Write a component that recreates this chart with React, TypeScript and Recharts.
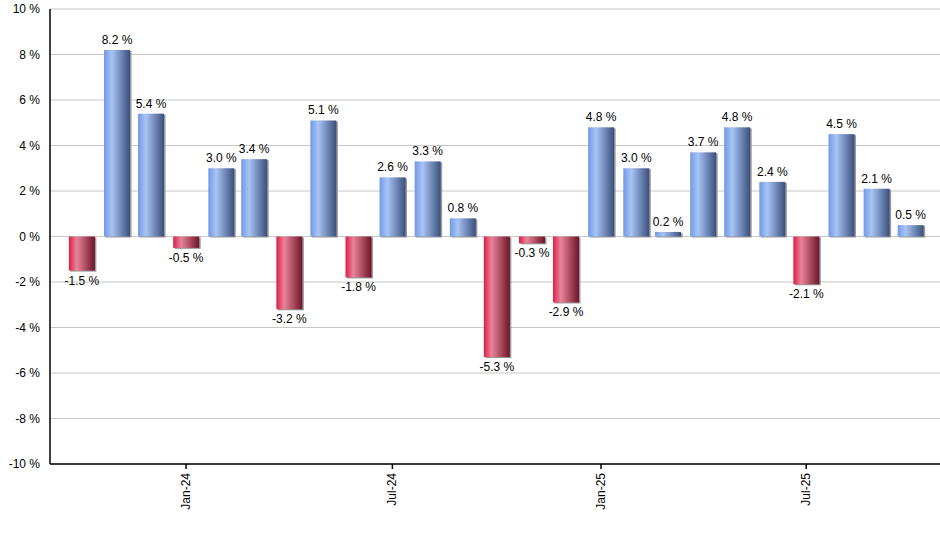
import { BarChart, Bar, XAxis, YAxis, CartesianGrid, LabelList, Cell } from "recharts";

const months = [
  "2023-10", "2023-11", "2023-12", "2024-01", "2024-02", "2024-03", "2024-04",
  "2024-05", "2024-06", "2024-07", "2024-08", "2024-09", "2024-10", "2024-11",
  "2024-12", "2025-01", "2025-02", "2025-03", "2025-04", "2025-05", "2025-06",
  "2025-07", "2025-08", "2025-09", "2025-10",
];

const returns = [
  -1.5, 8.2, 5.4, -0.5, 3.0, 3.4, -3.2, 5.1, -1.8, 2.6, 3.3, 0.8, -5.3, -0.3,
  -2.9, 4.8, 3.0, 0.2, 3.7, 4.8, 2.4, -2.1, 4.5, 2.1, 0.5,
];

const tickMonths = ["2024-01", "2024-07", "2025-01", "2025-07"];
const tickLabels = ["Jan-24", "Jul-24", "Jan-25", "Jul-25"];
const yTicks = [-10, -8, -6, -4, -2, 0, 2, 4, 6, 8, 10];

const toTime = (m: string) => {
  const [y, mo] = m.split("-").map(Number);
  return Date.UTC(y, mo - 1, 1);
};

const data = months.map((m, i) => ({ t: toTime(m), v: returns[i] }));
const xTicks = tickMonths.map(toTime);
const domain = [Date.UTC(2023, 8, 3), Date.UTC(2025, 9, 27)];

const font = "'Liberation Sans', Arial, sans-serif";

const XTick = (props: any) => {
  const { x, y, payload } = props;
  const idx = xTicks.indexOf(payload.value);
  return (
    <text
      x={x}
      y={y + 2}
      transform={`rotate(-90 ${x} ${y + 2})`}
      textAnchor="end"
      dominantBaseline="central"
      fontSize={12}
      fontFamily={font}
      fill="#000"
    >
      {tickLabels[idx]}
    </text>
  );
};

const ValueLabel = (props: any) => {
  const { x, y, width, height, value } = props;
  const neg = value < 0;
  const cx = x + width / 2;
  const bottom = y + height;
  const ty = neg ? Math.max(y, bottom) + 14 : Math.min(y, bottom) - 6;
  return (
    <text x={cx} y={ty} textAnchor="middle" fontSize={12} fontFamily={font} fill="#000">
      {value.toFixed(1)} %
    </text>
  );
};

const ShadowBar = (props: any) => {
  const { x, y, width, height, fill } = props;
  const top = Math.min(y, y + height);
  const h = Math.abs(height);
  return (
    <g>
      <rect x={x + 1.5} y={top + 1} width={width} height={h} fill="#9a9a9a" />
      <rect x={x} y={top} width={width} height={h} fill={fill} />
    </g>
  );
};

export default function App() {
  return (
    <div style={{ position: "absolute", left: 0, top: 0, background: "#fff" }}>
      <BarChart
        width={940}
        height={550}
        data={data}
        margin={{ top: 9, right: 0, left: 0, bottom: 26 }}
      >
        <defs>
          <linearGradient id="gBlue" x1="0" y1="0" x2="1" y2="0">
            <stop offset="0" stopColor="#7099e6" />
            <stop offset="0.3" stopColor="#a9c4f5" />
            <stop offset="1" stopColor="#3a4f7c" />
          </linearGradient>
          <linearGradient id="gRed" x1="0" y1="0" x2="1" y2="0">
            <stop offset="0" stopColor="#dc1e48" />
            <stop offset="0.3" stopColor="#e9849a" />
            <stop offset="1" stopColor="#6e1428" />
          </linearGradient>
        </defs>
        <CartesianGrid stroke="#c8c8c8" vertical={false} />
        <XAxis
          dataKey="t"
          type="number"
          scale="time"
          domain={domain}
          ticks={xTicks}
          tick={<XTick />}
          height={60}
          axisLine={{ stroke: "#000", strokeWidth: 1.5 }}
          tickLine={{ stroke: "#000", strokeWidth: 1.5 }}
          tickSize={5}
          interval={0}
        />
        <YAxis
          domain={[-10, 10]}
          ticks={yTicks}
          width={50}
          tickFormatter={(v: number) => `${v} %`}
          tick={{ fontSize: 12, fontFamily: font, fill: "#000" }}
          axisLine={{ stroke: "#000", strokeWidth: 1.5 }}
          tickLine={false}
          tickMargin={4}
          interval={0}
        />
        <Bar dataKey="v" barSize={26} isAnimationActive={false} shape={<ShadowBar />}>
          {data.map((d, i) => (
            <Cell key={i} fill={d.v < 0 ? "url(#gRed)" : "url(#gBlue)"} />
          ))}
          <LabelList dataKey="v" content={<ValueLabel />} />
        </Bar>
      </BarChart>
    </div>
  );
}
